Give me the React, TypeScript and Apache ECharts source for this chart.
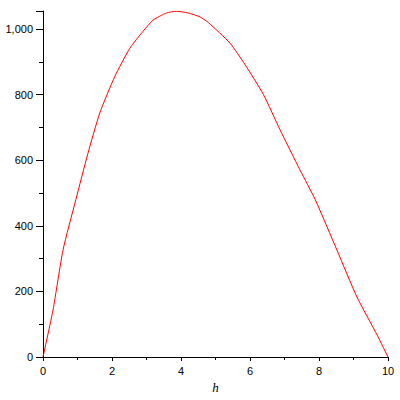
import React, { useEffect, useRef } from "react";
import * as echarts from "echarts";

const hValues = [0, 0.29, 0.58, 0.95, 1.3, 1.646, 2.08, 2.52, 2.9, 3.19, 3.58, 3.87, 4.21, 4.55, 4.79, 5.42, 5.86, 6.39, 6.87, 7.45, 7.89, 8.52, 9.1, 9.68, 10];
const yValues = [0, 143, 326, 479, 620, 744, 855, 942, 993, 1027, 1049, 1054, 1049, 1037, 1020, 957, 891, 800, 693, 570, 480, 326, 183, 68, 0];

export default function App() {
  const ref = useRef<HTMLDivElement>(null);
  useEffect(() => {
    if (!ref.current) return;
    const chart = echarts.init(ref.current, undefined, { renderer: "svg" });
    const font = "Liberation Sans, Arial, sans-serif";
    chart.setOption({
      animation: false,
      backgroundColor: "#ffffff",
      grid: { left: 43, right: 12, top: 11, bottom: 43, containLabel: false },
      xAxis: {
        type: "value",
        min: 0,
        max: 10,
        interval: 2,
        name: "h",
        nameLocation: "middle",
        nameGap: 24,
        nameTextStyle: { fontStyle: "italic", fontFamily: "Liberation Serif, Times New Roman, serif", fontSize: 13, color: "#000" },
        axisLine: { show: true, lineStyle: { color: "#000", width: 1 } },
        axisTick: { show: true, length: 4, lineStyle: { color: "#000" } },
        minorTick: { show: true, splitNumber: 2, length: 3, lineStyle: { color: "#000" } },
        splitLine: { show: false },
        axisLabel: { color: "#000", fontSize: 11, fontFamily: font, margin: 8 },
      },
      yAxis: {
        type: "value",
        min: 0,
        max: 1055,
        interval: 200,
        axisLine: { show: true, lineStyle: { color: "#000", width: 1 } },
        axisTick: { show: true, length: 7, lineStyle: { color: "#000" } },
        minorTick: { show: true, splitNumber: 2, length: 4, lineStyle: { color: "#000" } },
        splitLine: { show: false },
        axisLabel: {
          color: "#000",
          fontSize: 11,
          fontFamily: font,
          margin: 10,
          showMaxLabel: false,
          formatter: (v: number) => (v % 200 === 0 ? v.toLocaleString("en-US") : ""),
        },
      },
      series: [
        {
          type: "line",
          data: hValues.map((h, i) => [h, yValues[i]]),
          showSymbol: false,
          smooth: 0.2,
          lineStyle: { color: "#ff0000", width: 1 },
          itemStyle: { color: "#ff0000" },
        },
      ],
    });
    return () => chart.dispose();
  }, []);
  return <div ref={ref} style={{ width: 400, height: 400, position: "absolute", left: 0, top: 0 }} />;
}
